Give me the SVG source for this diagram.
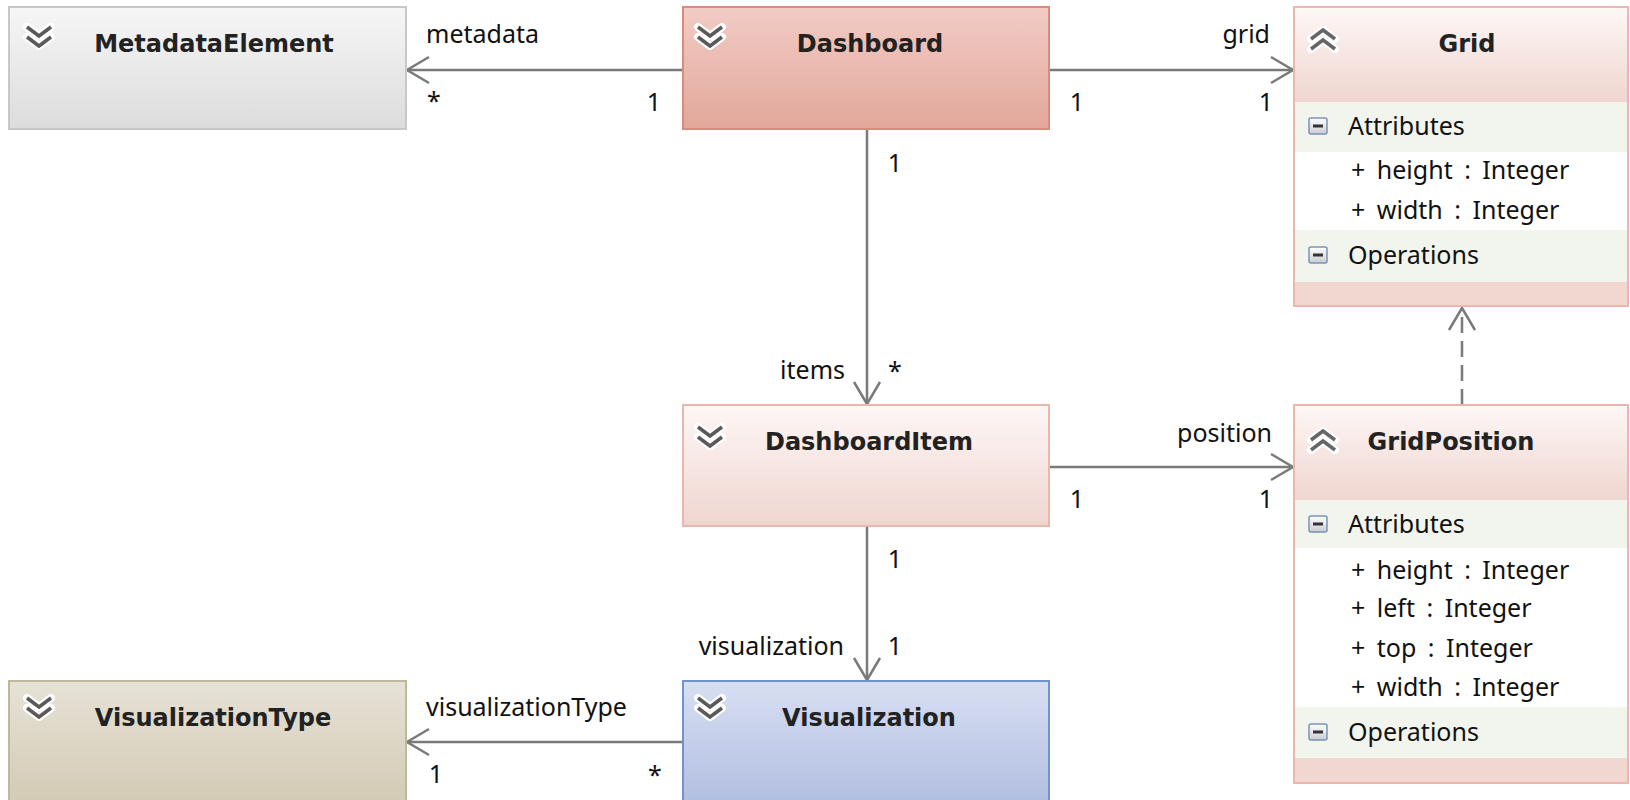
<svg xmlns="http://www.w3.org/2000/svg" xmlns:xlink="http://www.w3.org/1999/xlink" width="1630" height="800" viewBox="0 0 1630 800">
<defs>
<linearGradient id="gGray" x1="0" y1="0" x2="0" y2="1"><stop offset="0" stop-color="#f6f6f6"/><stop offset="1" stop-color="#dcdcdc"/></linearGradient>
<linearGradient id="gDash" x1="0" y1="0" x2="0" y2="1"><stop offset="0" stop-color="#f2ccc5"/><stop offset="1" stop-color="#e2a79a"/></linearGradient>
<linearGradient id="gPink" x1="0" y1="0" x2="0" y2="1"><stop offset="0" stop-color="#fdf7f6"/><stop offset="1" stop-color="#f0d5cf"/></linearGradient>
<linearGradient id="gBlue" x1="0" y1="0" x2="0" y2="1"><stop offset="0" stop-color="#d7dff2"/><stop offset="1" stop-color="#b0bce0"/></linearGradient>
<linearGradient id="gBeige" x1="0" y1="0" x2="0" y2="1"><stop offset="0" stop-color="#e6e2d7"/><stop offset="1" stop-color="#d2c9b1"/></linearGradient>
<linearGradient id="gMinus" x1="0" y1="0" x2="0" y2="1"><stop offset="0" stop-color="#ffffff"/><stop offset="1" stop-color="#c9ccd2"/></linearGradient>
<marker id="arr" viewBox="-26 -16 30 32" markerWidth="30" markerHeight="32" refX="0" refY="0" orient="auto" markerUnits="userSpaceOnUse">
<path d="M-22,-13 L0,0 L-22,13" fill="none" stroke="#7a7a7a" stroke-width="2.5"/>
</marker>
<g id="chevDown">
<path d="M-12,-11 L0,-2 L12,-11 M-12,-1 L0,8 L12,-1" fill="none" stroke="#ffffff" stroke-width="8" stroke-linejoin="round" stroke-linecap="round"/>
<path d="M-12,-11 L0,-2 L12,-11 M-12,-1 L0,8 L12,-1" fill="none" stroke="#5a5a5a" stroke-width="3.5"/>
</g>
<g id="chevUp">
<path d="M-12,11 L0,2 L12,11 M-12,1 L0,-8 L12,1" fill="none" stroke="#ffffff" stroke-width="8" stroke-linejoin="round" stroke-linecap="round"/>
<path d="M-12,11 L0,2 L12,11 M-12,1 L0,-8 L12,1" fill="none" stroke="#666666" stroke-width="3.5"/>
</g>
<g id="minus">
<rect x="-9" y="-8" width="18" height="16" rx="2" fill="url(#gMinus)" stroke="#7b93b5" stroke-width="1.5"/>
<rect x="-5" y="-1.5" width="10" height="3" fill="#333"/>
</g>
</defs>
<style>
.title{font-family:"DejaVu Sans",Verdana,sans-serif;font-weight:bold;font-size:24px;fill:#222;text-anchor:middle}
.txt{font-family:"Noto Sans","Open Sans",sans-serif;font-size:25px;fill:#111;word-spacing:5px}
.lbl{font-family:"Noto Sans","Open Sans",sans-serif;font-size:25px;fill:#111}
.mid{text-anchor:middle}
.end{text-anchor:end}
.edge{stroke:#7a7a7a;stroke-width:2.5;fill:none}
.comp{fill:#f1f5ee}
.rows{fill:#ffffff}
</style>

<g id="connectors">
<line class="edge" x1="683" y1="70" x2="407" y2="70" marker-end="url(#arr)"/>
<line class="edge" x1="1049" y1="70" x2="1293" y2="70" marker-end="url(#arr)"/>
<line class="edge" x1="867" y1="129" x2="867" y2="404" marker-end="url(#arr)"/>
<line class="edge" x1="1049" y1="467" x2="1293" y2="467" marker-end="url(#arr)"/>
<line class="edge" x1="867" y1="526" x2="867" y2="680" marker-end="url(#arr)"/>
<line class="edge" x1="683" y1="742" x2="407" y2="742" marker-end="url(#arr)"/>
<line class="edge" x1="1462" y1="405" x2="1462" y2="308" stroke-dasharray="16,8" marker-end="url(#arr)"/>
<text class="lbl" x="426" y="43">metadata</text>
<text class="lbl mid" x="434" y="110">*</text>
<text class="lbl mid" x="654" y="111">1</text>
<text class="lbl end" x="1270" y="43">grid</text>
<text class="lbl mid" x="1077" y="111">1</text>
<text class="lbl mid" x="1266" y="111">1</text>
<text class="lbl mid" x="895" y="172">1</text>
<text class="lbl end" x="845" y="379">items</text>
<text class="lbl mid" x="895" y="380">*</text>
<text class="lbl end" x="1272" y="442">position</text>
<text class="lbl mid" x="1077" y="508">1</text>
<text class="lbl mid" x="1266" y="508">1</text>
<text class="lbl mid" x="895" y="568">1</text>
<text class="lbl end" x="844" y="655">visualization</text>
<text class="lbl mid" x="895" y="655">1</text>
<text class="lbl" x="426" y="716">visualizationType</text>
<text class="lbl mid" x="436" y="783">1</text>
<text class="lbl mid" x="655" y="784">*</text>
</g>

<g id="MetadataElement">
<rect x="9" y="7" width="397" height="122" fill="url(#gGray)" stroke="#c8c8c8" stroke-width="2"/>
<use xlink:href="#chevDown" x="39" y="38"/>
<text class="title" x="214" y="52">MetadataElement</text>
</g>

<g id="Dashboard">
<rect x="683" y="7" width="366" height="122" fill="url(#gDash)" stroke="#db8b7d" stroke-width="2"/>
<use xlink:href="#chevDown" x="710" y="38"/>
<text class="title" x="870" y="52">Dashboard</text>
</g>

<g id="Grid">
<rect x="1294" y="7" width="334" height="299" fill="#f2d6d0" stroke="#ebb6ac" stroke-width="2"/>
<rect x="1295" y="8" width="332" height="94" fill="url(#gPink)"/>
<rect class="comp" x="1295" y="102" width="332" height="50"/>
<rect class="rows" x="1295" y="152" width="332" height="78"/>
<rect class="comp" x="1295" y="230" width="332" height="52"/>
<use xlink:href="#chevUp" x="1323" y="38"/>
<text class="title" x="1467" y="52">Grid</text>
<use xlink:href="#minus" x="1318" y="126"/>
<text class="txt" x="1348" y="135">Attributes</text>
<text class="txt" x="1351" y="179">+ height : Integer</text>
<text class="txt" x="1351" y="219">+ width : Integer</text>
<use xlink:href="#minus" x="1318" y="255"/>
<text class="txt" x="1348" y="264">Operations</text>
</g>

<g id="DashboardItem">
<rect x="683" y="405" width="366" height="121" fill="url(#gPink)" stroke="#ebb6ac" stroke-width="2"/>
<use xlink:href="#chevDown" x="710" y="438"/>
<text class="title" x="869" y="450">DashboardItem</text>
</g>

<g id="GridPosition">
<rect x="1294" y="405" width="334" height="378" fill="#f2d6d0" stroke="#ebb6ac" stroke-width="2"/>
<rect x="1295" y="406" width="332" height="94" fill="url(#gPink)"/>
<rect class="comp" x="1295" y="500" width="332" height="48"/>
<rect class="rows" x="1295" y="548" width="332" height="159"/>
<rect class="comp" x="1295" y="707" width="332" height="51"/>
<use xlink:href="#chevUp" x="1323" y="439"/>
<text class="title" x="1451" y="450">GridPosition</text>
<use xlink:href="#minus" x="1318" y="524"/>
<text class="txt" x="1348" y="533">Attributes</text>
<text class="txt" x="1351" y="579">+ height : Integer</text>
<text class="txt" x="1351" y="617">+ left : Integer</text>
<text class="txt" x="1351" y="657">+ top : Integer</text>
<text class="txt" x="1351" y="696">+ width : Integer</text>
<use xlink:href="#minus" x="1318" y="732"/>
<text class="txt" x="1348" y="741">Operations</text>
</g>

<g id="VisualizationType">
<rect x="9" y="681" width="397" height="130" fill="url(#gBeige)" stroke="#c0b89c" stroke-width="2"/>
<use xlink:href="#chevDown" x="39" y="709"/>
<text class="title" x="213" y="726">VisualizationType</text>
</g>

<g id="Visualization">
<rect x="683" y="681" width="366" height="130" fill="url(#gBlue)" stroke="#6f93cc" stroke-width="2"/>
<use xlink:href="#chevDown" x="710" y="709"/>
<text class="title" x="869" y="726">Visualization</text>
</g>
</svg>
